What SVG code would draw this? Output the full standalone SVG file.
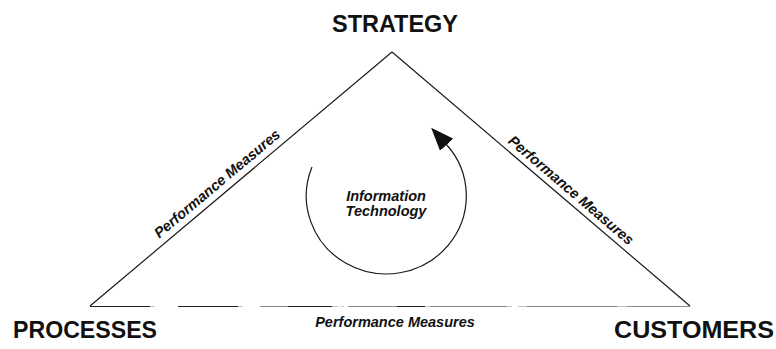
<svg xmlns="http://www.w3.org/2000/svg" width="776" height="349" viewBox="0 0 776 349">
<style>
.big{font-family:"Liberation Sans",Arial,sans-serif;font-weight:bold;font-size:24px;fill:#111}
.small{font-family:"Liberation Sans",Arial,sans-serif;font-weight:bold;font-style:italic;font-size:14.5px;fill:#111}
.edge{stroke:#1a1a1a;stroke-width:1.2;fill:none}
.dark{stroke:#222;stroke-width:1.2;fill:none}
.grey{stroke:#8a8a8a;stroke-width:1.1;fill:none}
.faint{stroke:#c4c4c4;stroke-width:1;fill:none}
</style>
<defs>
<marker id="arrow" markerUnits="userSpaceOnUse" markerWidth="24" markerHeight="18" viewBox="0 0 24 18" refX="1" refY="9" orient="auto">
<path d="M0,0 L23,9 L0,18 Z" fill="#111"/>
</marker>
</defs>
<rect width="776" height="349" fill="#fff"/>
<g id="connectors">
<g id="edge-processes-strategy">
<line class="edge" x1="90" y1="306" x2="392" y2="52"/>
<text class="small" text-anchor="middle" transform="translate(224.7,192.7) rotate(-40.07)" y="-7">Performance Measures</text>
</g>
<g id="edge-strategy-customers">
<line class="edge" x1="392" y1="52" x2="690" y2="306"/>
<text class="small" text-anchor="middle" transform="translate(564,198.6) rotate(40.45)" y="-6">Performance Measures</text>
</g>
<g id="edge-processes-customers">
<path class="dark" d="M90,306.5H150M178,306.5H238M288,306.5H332M397,306.5H425"/>
<path class="grey" d="M260,306.5H288M348,306.5H397M430,306.5H507M527,306.5H617M627,306.5H690"/>
<path class="faint" d="M150,306.5H155M238,306.5H243M332,306.5H338M341,306.5H344M425,306.5H430M507,306.5H512M518,306.5H527M617,306.5H627"/>
<text class="small" text-anchor="middle" x="395" y="327">Performance Measures</text>
</g>
</g>
<g id="node-strategy">
<text class="big" text-anchor="middle" x="395" y="32" textLength="126" lengthAdjust="spacingAndGlyphs">STRATEGY</text>
</g>
<g id="node-processes">
<text class="big" x="13" y="338" textLength="144" lengthAdjust="spacingAndGlyphs">PROCESSES</text>
</g>
<g id="node-customers">
<text class="big" x="614" y="338" textLength="160" lengthAdjust="spacingAndGlyphs">CUSTOMERS</text>
</g>
<g id="node-information-technology">
<path class="edge" d="M312,167 A80,78 0 1 0 446,144" marker-end="url(#arrow)"/>
<text class="small" text-anchor="middle" x="386" y="201">Information</text>
<text class="small" text-anchor="middle" x="386" y="216">Technology</text>
</g>
</svg>
